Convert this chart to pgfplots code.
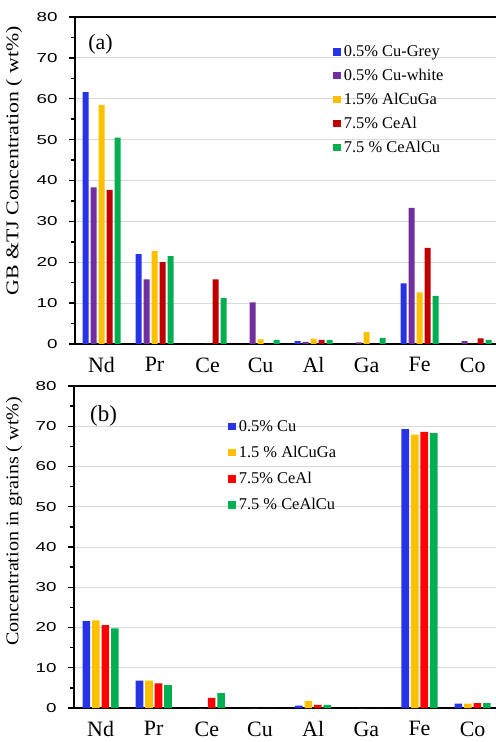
\documentclass[border=0pt]{standalone}
\usepackage{pgfplots}
\pgfplotsset{compat=1.18}
\usepackage{pgfplotstable}
\usepackage{graphicx}
\usepackage{fontspec}
\setmainfont{Liberation Serif}
\newfontfamily\arialf{Liberation Sans}

\definecolor{cblue}{RGB}{38,52,230}
\definecolor{cpurple}{RGB}{112,48,160}
\definecolor{cyellow}{RGB}{255,192,0}
\definecolor{cdred}{RGB}{192,0,0}
\definecolor{cgreen}{RGB}{0,176,80}
\definecolor{cred}{RGB}{255,0,0}
\definecolor{cgrid}{RGB}{217,217,217}

\pgfplotstableread{
x a b c d e
0 61.6 38.3 58.5 37.7 50.5
1 22.0 15.8 22.7 20.0 21.5
2 0 0 0 15.8 11.2
3 0 10.2 1.1 0 1.0
4 0.7 0.5 1.3 1.0 1.0
5 0 0.4 2.9 0 1.5
6 14.8 33.3 12.6 23.5 11.8
7 0 0.7 0 1.4 1.0
}\topdata

\pgfplotstableread{
x a b c d
0 21.6 21.8 20.6 19.8
1 6.8 6.8 6.1 5.7
2 0 0 2.5 3.7
3 0 0 0 0
4 0.6 1.8 0.8 0.8
5 0 0 0 0
6 69.3 67.9 68.6 68.3
7 1.1 1.1 1.2 1.2
}\botdata

\pgfplotsset{
  common/.style={
    scale only axis,
    anchor=south west,
    clip=false,
    ymin=0, ymax=80,
    xmin=-0.5, xmax=7.44,
    xtick={0,...,7},
    xticklabels={Nd,Pr,Ce,Cu,Al,Ga,Fe,Co},
    x tick label style={font=\fontsize{22}{22}\selectfont, yshift=-4bp},
    major x tick style={draw=none},
    ytick={0,10,...,80},
    minor y tick num=1,
    tick align=outside,
    major tick length=6bp, minor tick length=4bp,
    tick style={black, line width=1.4bp},
    y tick label style={font=\arialf\fontsize{13}{13}\selectfont, xshift=-8bp},
    yticklabel={\scalebox{1.45}[1]{\pgfmathprintnumber[assume math mode=true]{\tick}}},
    ymajorgrids,
    major grid style={draw=cgrid, line width=0.8bp},
    axis x line*=bottom, axis y line*=left,
    axis line style={line width=1.6bp, black},
    ylabel style={font=\fontsize{18}{18}\selectfont, anchor=center},
    legend cell align=left,
  },
  sqlegend/.style={
    legend image code/.code={\fill[##1] (0bp,-3.8bp) rectangle (7.6bp,3.8bp);},
  },
}

\begin{document}
\begin{tikzpicture}
\path[use as bounding box] (0bp,0bp) rectangle (496bp,742bp);

\begin{axis}[common,
  at={(75bp,398bp)}, width=421bp, height=327bp,
  ybar=2bp, bar width=6bp, sqlegend,
  ylabel={\scalebox{1.22}[1]{GB \&TJ Concentration ( wt\%)}},
  ylabel style={at={(axis description cs:-0.145,0.56)}},
  legend style={at={(axis description cs:0.613,0.919)}, anchor=north west,
    draw=none, fill=none, font=\fontsize{16.5}{16.5}\selectfont,
    row sep=7.1bp, inner sep=0pt, column sep=1bp},
]
\addplot[fill=cblue, draw=none] table[x=x,y=a]{\topdata};
\addlegendentry{0.5\% Cu-Grey}
\addplot[fill=cpurple, draw=none] table[x=x,y=b]{\topdata};
\addlegendentry{0.5\% Cu-white}
\addplot[fill=cyellow, draw=none] table[x=x,y=c]{\topdata};
\addlegendentry{1.5\% AlCuGa}
\addplot[fill=cdred, draw=none] table[x=x,y=d]{\topdata};
\addlegendentry{7.5\% CeAl}
\addplot[fill=cgreen, draw=none] table[x=x,y=e]{\topdata};
\addlegendentry{7.5 \% CeAlCu}
\draw[line width=1.6bp] (rel axis cs:0,1) -- (rel axis cs:1,1);
\node[anchor=west, font=\fontsize{22}{22}\selectfont, inner sep=0pt] at (rel axis cs:0.031,0.917) {(a)};
\end{axis}

\begin{axis}[common,
  at={(74bp,34bp)}, width=422bp, height=322bp,
  ybar=1.9bp, bar width=7.6bp, sqlegend,
  ylabel={\scalebox{1.12}[1]{Concentration in grains ( wt\%)}},
  ylabel style={at={(axis description cs:-0.142,0.58)}},
  legend style={at={(axis description cs:0.365,0.90)}, anchor=north west,
    draw=none, fill=none, font=\fontsize{16.5}{16.5}\selectfont,
    row sep=9.3bp, inner sep=0pt, column sep=1bp},
]
\addplot[fill=cblue, draw=none] table[x=x,y=a]{\botdata};
\addlegendentry{0.5\% Cu}
\addplot[fill=cyellow, draw=none] table[x=x,y=b]{\botdata};
\addlegendentry{1.5 \% AlCuGa}
\addplot[fill=cred, draw=none] table[x=x,y=c]{\botdata};
\addlegendentry{7.5\% CeAl}
\addplot[fill=cgreen, draw=none] table[x=x,y=d]{\botdata};
\addlegendentry{7.5 \% CeAlCu}
\draw[line width=1.6bp] (rel axis cs:0,1) -- (rel axis cs:1,1);
\node[anchor=west, font=\fontsize{23}{23}\selectfont, inner sep=0pt] at (rel axis cs:0.038,0.907) {(b)};
\end{axis}
\end{tikzpicture}
\end{document}
